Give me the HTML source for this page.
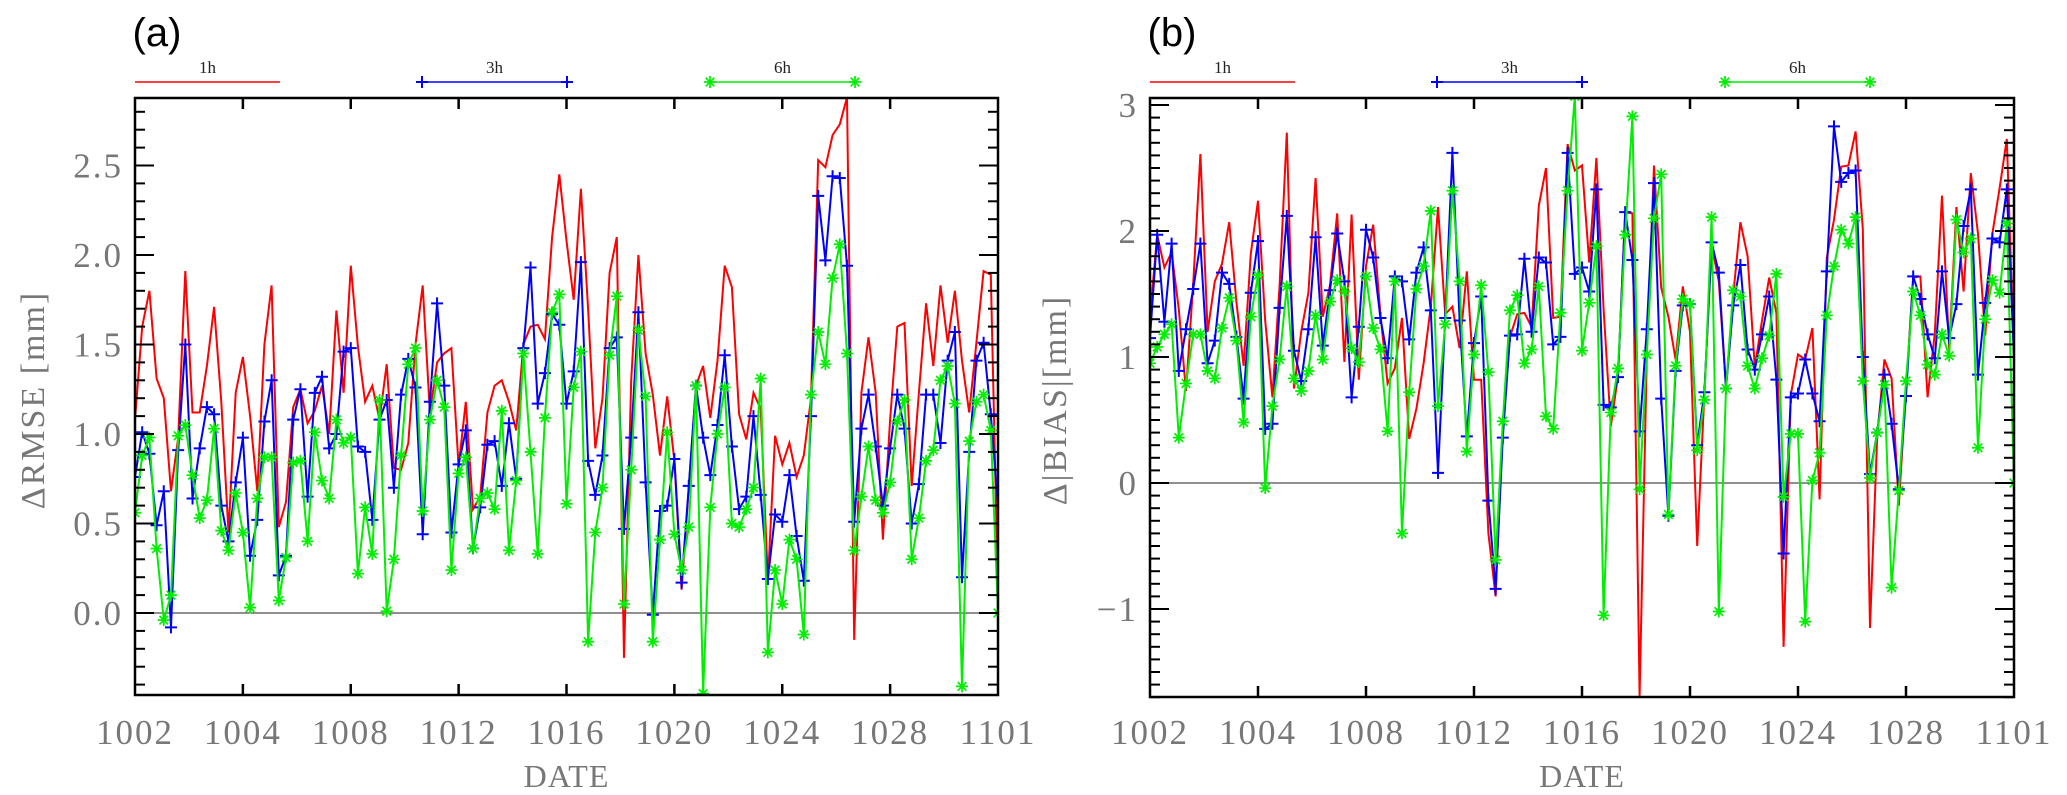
<!DOCTYPE html>
<html><head><meta charset="utf-8"><style>
html,body{margin:0;padding:0;background:#fff;}
svg{display:block;}
</style></head><body>
<svg id="chart" width="2067" height="795" viewBox="0 0 2067 795" xmlns="http://www.w3.org/2000/svg">
<defs>
<clipPath id="clipA"><rect x="135" y="98" width="863" height="597"/></clipPath>
<clipPath id="clipB"><rect x="1150" y="98" width="864" height="599"/></clipPath>
</defs>
</svg>
<script>
const dateLabels = ['1002','1004','1008','1012','1016','1020','1024','1028','1101'];
const aYLabels = ['0.0','0.5','1.0','1.5','2.0','2.5'];
const aYValues = [0,0.5,1,1.5,2,2.5];
const bYLabels = ['\u22121','0','1','2','3'];
const bYValues = [-1,0,1,2,3];
const seriesNames = ['1h','3h','6h'];

const aRed = [1.08,1.60,1.80,1.31,1.20,0.68,0.98,1.91,1.12,1.12,
1.38,1.71,1.18,0.45,1.23,1.43,1.10,0.68,1.50,1.83,
0.48,0.62,1.15,1.25,1.06,1.13,1.27,1.00,1.69,1.23,
1.94,1.49,1.18,1.27,1.08,1.39,0.81,0.80,0.95,1.50,
1.83,1.12,1.40,1.45,1.48,0.82,1.18,0.58,0.65,1.12,
1.27,1.30,1.18,1.02,1.50,1.60,1.61,1.53,2.10,2.45,
2.08,1.75,2.37,1.70,0.92,1.20,1.90,2.10,-0.25,1.30,
2.00,1.45,1.22,0.88,1.21,0.85,0.13,0.70,1.27,1.38,
1.09,1.41,1.94,1.82,1.11,0.97,1.23,1.14,0.18,0.99,
0.83,0.95,0.76,0.88,1.20,2.53,2.49,2.67,2.73,2.88,
-0.15,1.23,1.54,1.23,0.41,1.08,1.60,1.62,0.71,1.23,
1.73,1.38,1.83,1.51,1.80,1.41,1.12,1.51,1.91,1.89,
0.1];
const aBlue = [0.76,1.01,0.89,0.49,0.68,-0.08,0.91,1.50,0.64,0.92,
1.15,1.11,0.60,0.40,0.73,0.98,0.32,0.52,1.07,1.30,
0.21,0.32,1.08,1.25,0.65,1.23,1.32,0.92,1.00,1.46,
1.48,0.93,0.90,0.52,1.08,1.19,0.70,1.22,1.42,1.26,
0.44,1.18,1.73,1.27,0.45,0.83,1.02,0.36,0.59,0.94,
0.96,0.71,1.06,0.75,1.48,1.93,1.17,1.34,1.67,1.61,
1.17,1.35,1.96,0.85,0.66,0.88,1.48,1.54,0.47,0.98,
1.68,0.73,-0.01,0.57,0.60,0.86,0.17,0.71,1.27,0.98,
0.77,1.05,1.44,0.93,0.58,0.65,1.10,0.66,0.19,0.55,
0.51,0.77,0.43,0.18,1.10,2.33,1.97,2.44,2.43,1.94,
0.51,1.03,1.22,0.93,0.60,0.92,1.22,1.03,0.50,0.72,
1.22,1.22,0.95,1.41,1.57,0.20,0.90,1.41,1.51,1.11,
0.6];
const aGreen = [0.56,0.88,0.98,0.36,-0.04,0.10,0.99,1.05,0.77,0.53,
0.63,1.03,0.46,0.35,0.67,0.45,0.03,0.64,0.87,0.87,
0.07,0.31,0.84,0.85,0.40,1.01,0.74,0.64,1.08,0.95,
0.98,0.22,0.59,0.33,1.19,0.01,0.30,0.88,1.39,1.48,
0.57,1.08,1.30,1.15,0.24,0.78,0.87,0.36,0.64,0.67,
0.58,1.13,0.35,0.74,1.45,0.90,0.33,1.09,1.68,1.78,
0.61,1.26,1.46,-0.16,0.45,0.70,1.44,1.77,0.05,0.80,
1.58,1.21,-0.16,0.41,1.01,0.44,0.24,0.48,1.27,-0.45,
0.59,1.00,1.26,0.50,0.48,0.58,0.70,1.31,-0.22,0.24,
0.05,0.41,0.30,-0.12,1.22,1.57,1.39,1.87,2.06,1.45,
0.35,0.65,0.93,0.63,0.56,0.73,1.07,1.19,0.30,0.53,
0.85,0.91,1.30,1.38,1.17,-0.41,0.96,1.18,1.22,1.02,
0.0];

const bRed = [1.32,1.97,1.71,1.83,1.38,0.73,1.58,2.61,1.20,1.60,
1.74,2.07,1.44,0.93,1.82,2.24,1.29,0.68,1.57,2.78,
0.75,1.20,1.51,2.42,1.32,1.57,2.14,0.96,2.13,0.82,
1.72,2.05,1.34,0.79,0.91,1.31,0.35,0.59,0.95,1.40,
2.19,1.34,1.40,1.07,1.68,0.82,0.82,-0.40,-0.90,0.45,
1.16,1.34,1.35,1.24,2.20,2.50,1.31,1.32,2.69,2.48,
2.52,1.75,2.58,1.38,0.45,0.85,2.15,2.14,-1.69,1.01,
2.52,1.55,1.32,0.98,1.56,1.20,-0.50,0.71,1.89,1.60,
0.76,1.49,2.07,1.80,0.92,1.29,1.63,1.35,-1.30,0.70,
1.02,0.98,1.23,-0.13,1.79,2.09,2.51,2.52,2.79,2.02,
-1.15,0.37,0.98,0.83,-0.18,0.75,1.63,1.64,0.68,1.19,
2.28,1.06,2.19,1.52,2.46,1.98,1.17,1.98,2.34,2.73,
1.0];
const bBlue = [1.15,1.97,1.28,1.90,0.89,1.22,1.54,1.90,0.95,1.13,
1.67,1.58,1.16,0.67,1.51,1.92,0.43,0.47,1.39,2.12,
1.05,0.81,1.22,1.95,1.09,1.53,1.98,1.60,0.68,1.24,
2.01,1.79,1.31,0.99,1.64,1.60,1.14,1.67,1.87,1.37,
0.08,1.31,2.62,1.29,0.37,1.11,1.48,-0.14,-0.84,0.36,
1.17,1.18,1.78,1.20,1.79,1.75,1.10,1.16,2.62,1.66,
1.71,1.52,2.33,0.62,0.60,0.84,2.15,1.77,0.41,1.22,
2.38,0.67,-0.26,0.89,1.41,1.42,0.30,0.72,1.91,1.67,
0.75,1.41,1.73,1.06,0.90,1.18,1.48,0.82,-0.56,0.68,
0.71,0.98,0.71,0.49,1.68,2.83,2.39,2.46,2.48,1.00,
0.07,0.40,0.86,0.47,-0.05,0.69,1.64,1.46,1.18,0.99,
1.68,1.15,1.42,2.04,2.33,0.86,1.43,1.94,1.91,2.33,
1.0];
const bGreen = [0.95,1.08,1.18,1.26,0.36,0.79,1.18,1.18,0.89,0.83,
1.23,1.47,1.13,0.48,1.32,1.65,-0.04,0.61,0.98,1.56,
0.83,0.73,0.89,1.33,0.98,1.44,1.61,1.52,1.07,0.96,
1.64,1.23,1.06,0.41,1.60,-0.40,0.72,1.54,1.72,2.16,
0.61,1.26,2.32,1.60,0.25,1.02,1.57,0.88,-0.61,0.49,
1.37,1.49,0.95,1.06,1.56,0.53,0.43,1.35,2.32,3.07,
1.05,1.43,1.88,-1.05,0.56,0.91,1.97,2.91,-0.05,1.02,
2.10,2.45,-0.25,0.93,1.46,1.42,0.26,0.66,2.11,-1.02,
0.75,1.53,1.48,0.93,0.75,0.99,1.17,1.66,-0.11,0.39,
0.39,-1.10,0.02,0.24,1.33,1.72,2.01,1.90,2.11,0.81,
0.04,0.40,0.78,-0.83,-0.06,0.81,1.52,1.33,0.94,0.86,
1.18,1.01,2.09,1.83,1.94,0.28,1.30,1.61,1.51,2.06,
0.0];

const NS = 'http://www.w3.org/2000/svg';
const svg = document.getElementById('chart');
function el(tag, attrs, parent){
  const e = document.createElementNS(NS, tag);
  for (const k in attrs) e.setAttribute(k, attrs[k]);
  (parent||svg).appendChild(e);
  return e;
}
const SERIF = '"Liberation Serif", "DejaVu Serif", serif';

function plusMarker(g, x, y, color){
  const p = el('path', {d:`M${x-6},${y}H${x+6}M${x},${y-6}V${y+6}`, stroke:color, 'stroke-width':2, fill:'none'}, g);
  
  
}
function starMarker(g, x, y, color){
  const p = el('path', {d:`M${x-6},${y}H${x+6}M${x},${y-6}V${y+6}M${x-4.3},${y-4.3}L${x+4.3},${y+4.3}M${x-4.3},${y+4.3}L${x+4.3},${y-4.3}`, stroke:color, 'stroke-width':1.7, fill:'none'}, g);
  
  
}

function drawPanel(cfg){
  const {x0,x1,yTop,yBot,zeroY,pxPerUnit,vMin,vMax,majorStep,yLabels,yValues,red,blue,green,clip,letter,ylabel,ylabelX,panelName} = cfg;
  const xs = i => x0 + i*(x1-x0)/(red.length-1);
  const ys = v => zeroY - v*pxPerUnit;
  const g = el('g', {});
  
  

  const lt = el('text', {x:x0+22, y:46, 'font-family':'"Liberation Sans", sans-serif', 'font-size':40, fill:'#000', 'text-anchor':'middle'}, g);
  lt.textContent = letter;
  
  

  const legColors = ['#ff0000','#0000ff','#00ee00'];
  const legStarts = [x0, x0+287, x0+575];
  for (let k=0;k<3;k++){
    const lg = el('g', {}, g);
    
    
    const a = legStarts[k], b = a+145;
    el('line', {x1:a, y1:82, x2:b, y2:82, stroke:legColors[k], 'stroke-width':1.6}, lg);
    if (k===1){ plusMarker(lg,a,82,legColors[k]); plusMarker(lg,b,82,legColors[k]); }
    if (k===2){ starMarker(lg,a,82,legColors[k]); starMarker(lg,b,82,legColors[k]); }
    const t = el('text', {x:(a+b)/2, y:73, 'font-family':SERIF, 'font-size':17, fill:'#222', 'text-anchor':'middle'}, lg);
    t.textContent = seriesNames[k];
  }

  const zl = el('line', {x1:x0, x2:x1, y1:ys(0), y2:ys(0), stroke:'#222', 'stroke-width':1}, g);
  
  

  const sets = [[red,'#ff0000',null,'series-1h'],[blue,'#0000ff','plus','series-3h'],[green,'#00ee00','star','series-6h']];
  for (const [arr,color,mk,name] of sets){
    const sg = el('g', {'clip-path':`url(#${clip})`}, g);
    
    
    const pts = arr.map((v,i)=>`${xs(i).toFixed(1)},${ys(v).toFixed(1)}`).join(' ');
    el('polyline', {points:pts, fill:'none', stroke:color, 'stroke-width':2, 'stroke-linejoin':'miter'}, sg);
    if (mk){
      arr.forEach((v,i)=>{ if (mk==='plus') plusMarker(sg, xs(i), ys(v), color); else starMarker(sg, xs(i), ys(v), color); });
    }
  }

  const fr = el('rect', {x:x0, y:yTop, width:x1-x0, height:yBot-yTop, fill:'none', stroke:'#000', 'stroke-width':2.5}, g);
  
  

  const yt = el('g', {stroke:'#000', 'stroke-width':2}, g);
  
  
  const nMin = Math.ceil(vMin*10-1e-6), nMax = Math.floor(vMax*10+1e-6);
  for (let n=nMin; n<=nMax; n++){
    const v = n/10, y = ys(v);
    const major = Math.abs(v/majorStep - Math.round(v/majorStep)) < 1e-6;
    const L = major ? 19 : 10;
    el('line', {x1:x0, x2:x0+L, y1:y, y2:y}, yt);
    el('line', {x1:x1-L, x2:x1, y1:y, y2:y}, yt);
  }
  yValues.forEach((v,k)=>{
    const t = el('text', {x:x0-12, y:ys(v)+12, 'font-family':SERIF, 'font-size':35, fill:'#777', 'text-anchor':'end', 'letter-spacing':2}, g);
    t.textContent = yLabels[k];
    
    
  });
  dateLabels.forEach((lab,k)=>{
    const x = x0 + k*(x1-x0)/(dateLabels.length-1);
    if (k>0 && k<dateLabels.length-1){
      el('line', {x1:x, x2:x, y1:yTop, y2:yTop+11, stroke:'#000', 'stroke-width':2.5}, g);
      el('line', {x1:x, x2:x, y1:yBot-11, y2:yBot, stroke:'#000', 'stroke-width':2.5}, g);
    }
    const t = el('text', {x:x, y:744, 'font-family':SERIF, 'font-size':35, fill:'#777', 'text-anchor':'middle', 'letter-spacing':2}, g);
    t.textContent = lab;
    
    
  });
  const xt = el('text', {x:(x0+x1)/2, y:787, 'font-family':SERIF, 'font-size':32, fill:'#777', 'text-anchor':'middle', 'letter-spacing':1}, g);
  xt.textContent = 'DATE';
  
  
  const ytl = el('text', {x:0, y:0, transform:`translate(${ylabelX},400) rotate(-90)`, 'font-family':SERIF, 'font-size':34, fill:'#777', 'text-anchor':'middle', 'letter-spacing':2}, g);
  ytl.textContent = ylabel;
  
  
}

drawPanel({panelName:'panel-a-rmse', x0:135, x1:998, yTop:98, yBot:695, zeroY:613, pxPerUnit:179,
  vMin:-0.45, vMax:2.87, majorStep:0.5, yLabels:aYLabels, yValues:aYValues,
  red:aRed, blue:aBlue, green:aGreen, clip:'clipA', letter:'(a)', ylabel:'\u0394RMSE [mm]', ylabelX:44});
drawPanel({panelName:'panel-b-bias', x0:1150, x1:2014, yTop:98, yBot:697, zeroY:483, pxPerUnit:126,
  vMin:-1.7, vMax:3.0, majorStep:1, yLabels:bYLabels, yValues:bYValues,
  red:bRed, blue:bBlue, green:bGreen, clip:'clipB', letter:'(b)', ylabel:'\u0394|BIAS|[mm]', ylabelX:1066});
</script>
</body></html>
